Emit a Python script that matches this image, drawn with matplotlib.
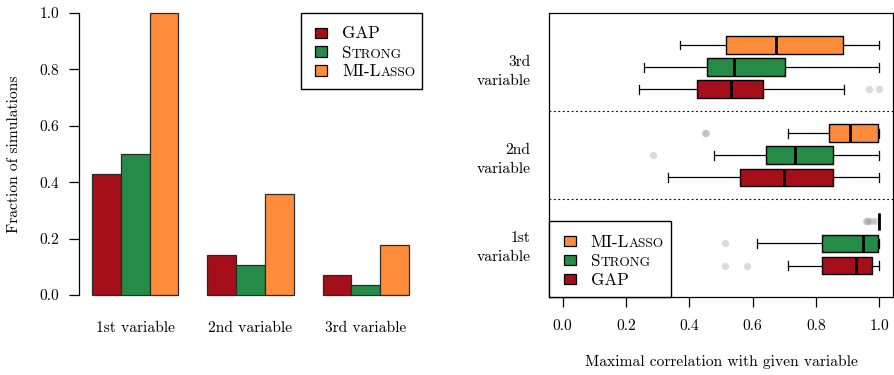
import matplotlib
matplotlib.use("Agg")
import matplotlib.pyplot as plt
from matplotlib.patches import Rectangle

W, H = 894, 375
plt.rcParams['font.family'] = ['cmr10', 'DejaVu Serif']
plt.rcParams['axes.formatter.use_mathtext'] = True
plt.rcParams['mathtext.fontset'] = 'cm'

# ---------------- data ----------------
methods = ["GAP", "Strong", "MI-Lasso"]
colors = ["#A50F19", "#258B47", "#FF8C3A"]
variables = ["1st variable", "2nd variable", "3rd variable"]

# Fraction of simulations (per variable)
frac_gap = [0.429, 0.143, 0.071]
frac_strong = [0.500, 0.107, 0.036]
frac_milasso = [1.000, 0.357, 0.179]

# Box statistics per variable: (whislo, q1, med, q3, whishi)
gap_stats = [(0.711, 0.819, 0.925, 0.976, 1.0),
             (0.334, 0.561, 0.699, 0.855, 1.0),
             (0.242, 0.424, 0.532, 0.632, 0.888)]
gap_fliers = [[0.513, 0.582], [], [0.966, 1.0]]

strong_stats = [(0.615, 0.819, 0.949, 0.997, 1.0),
                (0.479, 0.643, 0.734, 0.855, 1.0),
                (0.256, 0.456, 0.540, 0.703, 1.0)]
strong_fliers = [[0.513], [0.286], []]

milasso_stats = [(1.0, 1.0, 1.0, 1.0, 1.0),
                 (0.713, 0.840, 0.907, 0.995, 1.0),
                 (0.371, 0.517, 0.673, 0.886, 1.0)]
milasso_fliers = [[0.958, 0.962, 0.968, 0.978, 0.988], [0.448, 0.453], []]

yticks_left = [0.0, 0.2, 0.4, 0.6, 0.8, 1.0]
xticks_right = [0.0, 0.2, 0.4, 0.6, 0.8, 1.0]

# ---------------- figure ----------------
fig = plt.figure(figsize=(W / 100, H / 100), dpi=100)


def fx(px):
    return px / W


def fy(py):
    return 1 - py / H


TICK_FS = 11.2
LEG_FS = 12.3

# ---- left: bar chart ----
ax1 = fig.add_axes([fx(79.3), fy(306.3), fx(421.7) - fx(79.3), fy(1.7) - fy(306.3)])
fracs = [frac_gap, frac_strong, frac_milasso]
ng = len(variables)
for m, (vals, col) in enumerate(zip(fracs, colors)):
    xs = [1 + 4 * g + m for g in range(ng)]
    ax1.bar(xs, vals, width=1, align='edge', color=col,
            edgecolor='#2a2a2a', linewidth=0.9)
ax1.set_xlim(0.56, 12.44)
ax1.set_ylim(-0.04, 1.04)
for s in ['top', 'right', 'bottom']:
    ax1.spines[s].set_visible(False)
ax1.spines['left'].set_bounds(0, 1)
ax1.spines['left'].set_linewidth(0.9)
ax1.set_yticks(yticks_left, [f"{v:.1f}" for v in yticks_left])
ax1.set_xticks([1 + 4 * g + 1.5 for g in range(ng)], variables)
ax1.tick_params(axis='y', length=7.2, width=0.9, pad=7.2, labelsize=TICK_FS)
ax1.tick_params(axis='x', length=0, pad=11, labelsize=TICK_FS)
ax1.set_ylabel("Fraction of simulations", fontsize=TICK_FS, va='center')
ax1.yaxis.set_label_coords((14 - 79.3) / (421.7 - 79.3), 0.5)

# ---- right: box plots ----
ax2 = fig.add_axes([fx(549.3), fy(297.3), fx(892.7) - fx(549.3), fy(13.3) - fy(297.3)])
all_stats = [gap_stats, strong_stats, milasso_stats]
all_fliers = [gap_fliers, strong_fliers, milasso_fliers]
for m, (stats, fl, col) in enumerate(zip(all_stats, all_fliers, colors)):
    bstats = []
    for (lo, q1, med, q3, hi), f in zip(stats, fl):
        bstats.append(dict(whislo=lo, q1=q1, med=med, q3=q3, whishi=hi, fliers=f))
    pos = [1 + 4 * v + m for v in range(ng)]
    kw = dict(positions=pos, widths=0.8, capwidths=0.4, patch_artist=True,
              boxprops=dict(facecolor=col, edgecolor='black', linewidth=1.0),
              medianprops=dict(color='black', linewidth=2.0),
              whiskerprops=dict(color='black', linewidth=0.9),
              capprops=dict(color='black', linewidth=0.9),
              flierprops=dict(marker='o', markerfacecolor='grey', markeredgecolor='none',
                              markersize=5.3, alpha=0.28),
              manage_ticks=False)
    try:
        ax2.bxp(bstats, orientation='horizontal', **kw)
    except TypeError:
        ax2.bxp(bstats, vert=False, **kw)

for v in range(1, ng):
    ax2.axhline(4 * v, color='black', linewidth=0.8, dashes=(1.6, 2.4))

ax2.set_xlim(-0.042, 1.042)
ax2.set_ylim(-0.44, 12.44)
ax2.set_xticks(xticks_right, [f"{v:.1f}" for v in xticks_right])
ax2.set_yticks([1 + 4 * v + 1 for v in range(ng)], [s.replace(' ', '\n') for s in variables],
               ha='right')
for lbl in ax2.get_yticklabels():
    lbl.set_linespacing(1.5)
ax2.tick_params(axis='x', length=7, width=0.9, pad=9, labelsize=TICK_FS)
ax2.tick_params(axis='y', length=0, pad=13.4, labelsize=TICK_FS)
for s in ax2.spines.values():
    s.set_linewidth(0.9)
ax2.set_xlabel("Maximal correlation with given variable", fontsize=TICK_FS, va='center')
ax2.xaxis.set_label_coords(0.5, (297.3 - 362) / (297.3 - 13.3))

# ---- manual legends (small caps emulation) ----
renderer = fig.canvas.get_renderer()


def sc_parts(label):
    parts = []
    for ch in label:
        small = ch.islower()
        c = ch.upper()
        if parts and parts[-1][1] == small:
            parts[-1][0] += c
        else:
            parts.append([c, small])
    return parts


def draw_sc(x, ybase, label, fs):
    cx = x
    for txt, small in sc_parts(label):
        size = fs * 0.78 if small else fs
        t = fig.text(fx(cx), fy(ybase), txt, fontsize=size, va='baseline', ha='left', zorder=7)
        cx += t.get_window_extent(renderer).width


def draw_legend(box, order, sq_x, txt_x, row_ys):
    x0, y0, x1, y1 = box
    fig.patches.append(Rectangle((fx(x0), fy(y1)), fx(x1) - fx(x0), fy(y0) - fy(y1),
                                 transform=fig.transFigure, facecolor='white',
                                 edgecolor='black', linewidth=1.0, zorder=5))
    for idx, yc in zip(order, row_ys):
        fig.patches.append(Rectangle((fx(sq_x), fy(yc + 5)), fx(sq_x + 12) - fx(sq_x),
                                     fy(yc - 5) - fy(yc + 5), transform=fig.transFigure,
                                     facecolor=colors[idx], edgecolor='black',
                                     linewidth=0.9, zorder=6))
        draw_sc(txt_x, yc + 6, methods[idx], LEG_FS)


draw_legend((301, 13.3, 422, 89), [0, 1, 2], 315, 342, [32.5, 51.5, 70.5])
draw_legend((549.3, 221, 670.7, 297.3), [2, 1, 0], 564, 590.7, [240.7, 260, 279])

fig.savefig("out.png", dpi=100)
